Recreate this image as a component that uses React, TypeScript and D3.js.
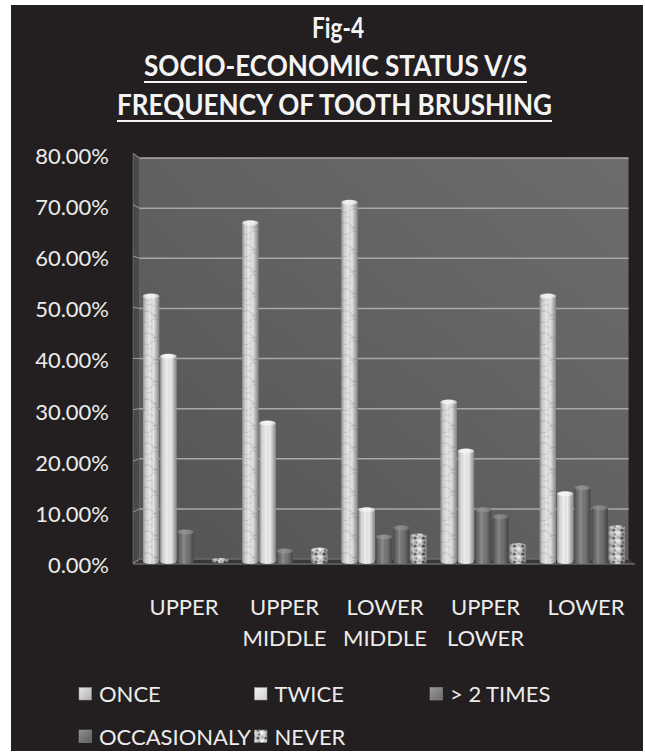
import React from 'react';
import * as d3 from 'd3';

const categories = ['UPPER', 'UPPER MIDDLE', 'LOWER MIDDLE', 'UPPER LOWER', 'LOWER'];
const categoryLines = [['UPPER'], ['UPPER', 'MIDDLE'], ['LOWER', 'MIDDLE'], ['UPPER', 'LOWER'], ['LOWER']];
const seriesNames = ['ONCE', 'TWICE', '> 2 TIMES', 'OCCASIONALY', 'NEVER'];
const once = [52.9, 67.5, 71.6, 31.8, 52.9];
const twice = [40.9, 27.6, 10.3, 22.0, 13.5];
const moreThanTwo = [5.9, 2.1, 4.9, 10.3, 14.7];
const occasionally = [0, 0, 6.7, 8.9, 10.7];
const never = [0.4, 2.3, 5.1, 3.2, 6.7];
const seriesValues = [once, twice, moreThanTwo, occasionally, never];
const yTicks = [0, 10, 20, 30, 40, 50, 60, 70, 80];
const titleLines = ['Fig-4', 'SOCIO-ECONOMIC STATUS V/S', 'FREQUENCY OF TOOTH BRUSHING'];

const W = 645;
const H = 752;
const FONT = 'Lato, "Open Sans", sans-serif';

const seriesFill = ['url(#marble)', '#ebebeb', '#77777a', '#727275', 'url(#mottle)'];
const capFill = ['#f3f3f3', '#f7f7f7', '#8c8c8f', '#868689', 'url(#mottle)'];
const legendFill = ['url(#legOnce)', 'url(#legTwice)', 'url(#legGray)', 'url(#legGray2)', 'url(#mottle)'];

export default function App() {
  const x0 = d3.scaleBand<string>().domain(categories).range([136, 632]).paddingInner(0.14).paddingOuter(0.07);
  const x1 = d3.scaleBand<string>().domain(seriesNames).range([0, x0.bandwidth()]).paddingInner(0.06);
  const xLabel = d3.scalePoint<string>().domain(categories).range([184, 586]);
  const yBar = d3.scaleLinear().domain([0, 80]).range([561.5, 160]);
  const yWall = d3.scaleLinear().domain([0, 80]).range([559, 158]);
  const yFront = d3.scaleLinear().domain([0, 80]).range([563.5, 153.5]);
  const yLabel = d3.scaleLinear().domain([0, 80]).range([565, 155.7]);
  const fmt = d3.format('.2%');

  const wallL = 139.5;
  const wallR = 628.5;
  const frontL = 133;
  const frontR = 635;

  const legendX = d3.scalePoint<number>().domain([0, 1, 2]).range([79, 430]);
  const legendY = d3.scalePoint<number>().domain([0, 1]).range([694, 736.5]);

  const titleSpecs = [
    { cx: 338, base: 38, len: 52, underline: false },
    { cx: 335.5, base: 76, len: 383, underline: true },
    { cx: 334.5, base: 115, len: 435, underline: true },
  ];

  return (
    <svg width={W} height={H} style={{ position: 'absolute', left: 0, top: 0 }}>
      <defs>
        <linearGradient id="wall" x1="0" y1="1" x2="1" y2="0">
          <stop offset="0%" stopColor="#545457" />
          <stop offset="55%" stopColor="#626265" />
          <stop offset="100%" stopColor="#6c6c6f" />
        </linearGradient>
        <linearGradient id="cyl" x1="0" y1="0" x2="1" y2="0">
          <stop offset="0%" stopColor="#000" stopOpacity="0.38" />
          <stop offset="18%" stopColor="#000" stopOpacity="0.08" />
          <stop offset="40%" stopColor="#fff" stopOpacity="0.18" />
          <stop offset="65%" stopColor="#000" stopOpacity="0" />
          <stop offset="100%" stopColor="#000" stopOpacity="0.42" />
        </linearGradient>
        <pattern id="marble" patternUnits="userSpaceOnUse" width="16" height="22">
          <rect width="16" height="22" fill="#e3e3e3" />
          <path d="M1 4 q4 -3 8 1 t6 2" stroke="#b9b9b9" strokeWidth="0.8" fill="none" />
          <path d="M0 13 q5 4 9 -1 q3 -3 6 0" stroke="#c2c2c2" strokeWidth="0.8" fill="none" />
          <path d="M4 19 q3 -2 6 1" stroke="#bdbdbd" strokeWidth="0.7" fill="none" />
          <ellipse cx="11" cy="8" rx="1.6" ry="1" fill="#c8c8c8" />
        </pattern>
        <pattern id="mottle" patternUnits="userSpaceOnUse" width="8" height="8">
          <rect width="8" height="8" fill="#cfcfcf" />
          <circle cx="2" cy="2" r="1.6" fill="#555" />
          <circle cx="6" cy="5" r="1.8" fill="#f6f6f6" />
          <circle cx="3" cy="6.5" r="1.2" fill="#7c7c7c" />
          <circle cx="6.5" cy="1.2" r="1" fill="#9a9a9a" />
        </pattern>
        <linearGradient id="legOnce" x1="0" y1="0" x2="1" y2="1">
          <stop offset="0%" stopColor="#e8e8e8" />
          <stop offset="100%" stopColor="#b0b0b0" />
        </linearGradient>
        <linearGradient id="legTwice" x1="0" y1="0" x2="1" y2="1">
          <stop offset="0%" stopColor="#f5f5f5" />
          <stop offset="100%" stopColor="#cfcfcf" />
        </linearGradient>
        <linearGradient id="legGray" x1="0" y1="0" x2="1" y2="1">
          <stop offset="0%" stopColor="#9a9a9a" />
          <stop offset="100%" stopColor="#6a6a6a" />
        </linearGradient>
        <linearGradient id="legGray2" x1="0" y1="0" x2="1" y2="1">
          <stop offset="0%" stopColor="#8e8e8e" />
          <stop offset="100%" stopColor="#5e5e5e" />
        </linearGradient>
      </defs>

      <rect x={0} y={0} width={W} height={H} fill="#ffffff" />
      <rect x={11} y={5} width={632} height={746} fill="#231f20" />

      {/* Title */}
      {titleLines.map((t, i) => {
        const s = titleSpecs[i];
        return (
          <g key={t}>
            <text
              x={s.cx}
              y={s.base}
              textAnchor="middle"
              fontFamily={FONT}
              fontWeight="bold"
              fontSize={28}
              fill="#f4f4f4"
              textLength={s.len}
              lengthAdjust="spacingAndGlyphs"
            >
              {t}
            </text>
            {s.underline && (
              <line x1={s.cx - s.len / 2} x2={s.cx + s.len / 2} y1={s.base + 6} y2={s.base + 6} stroke="#f4f4f4" strokeWidth={2} />
            )}
          </g>
        );
      })}

      {/* Back wall */}
      <rect x={wallL} y={yWall(80)} width={wallR - wallL} height={yWall(0) - yWall(80)} fill="url(#wall)" />
      {/* Left side wall */}
      <polygon
        points={`${frontL},${yFront(80)} ${wallL},${yWall(80)} ${wallL},${yWall(0)} ${frontL},${yFront(0)}`}
        fill="#4a4a4d"
        stroke="#7a7a7a"
        strokeWidth={0.6}
      />
      {/* Floor */}
      <polygon
        points={`${frontL},${yFront(0)} ${frontR},${yFront(0) + 0.5} ${wallR},${yWall(0)} ${wallL},${yWall(0)}`}
        fill="#38383b"
      />
      <line x1={frontL} x2={frontR} y1={yFront(0) + 0.5} y2={yFront(0) + 0.5} stroke="#8a8a8a" strokeWidth={1} />

      {/* Gridlines */}
      {yTicks.map((v) => (
        <g key={v}>
          <line x1={wallL} x2={wallR} y1={yWall(v)} y2={yWall(v)} stroke={v === 0 ? '#6a6a6a' : '#a8a8a8'} strokeWidth={1.5} />
          <line x1={frontL} x2={wallL} y1={yFront(v)} y2={yWall(v)} stroke="#9a9a9a" strokeWidth={1} />
        </g>
      ))}

      {/* Bars */}
      {categories.map((c, ci) => (
        <g key={c} transform={`translate(${x0(c)},0)`}>
          {seriesNames.map((s, si) => {
            const v = seriesValues[si][ci];
            if (v <= 0) return null;
            const bx = x1(s) as number;
            const bw = x1.bandwidth();
            const top = yBar(v);
            const bottom = yBar(0);
            const ry = Math.min(2.5, (bottom - top) / 2 + 0.5);
            return (
              <g key={s}>
                <ellipse cx={bx + bw / 2} cy={bottom} rx={bw / 2} ry={ry} fill={seriesFill[si]} />
                <ellipse cx={bx + bw / 2} cy={bottom} rx={bw / 2} ry={ry} fill="url(#cyl)" />
                <rect x={bx} y={top} width={bw} height={bottom - top} fill={seriesFill[si]} />
                <rect x={bx} y={top} width={bw} height={bottom - top} fill="url(#cyl)" />
                <ellipse cx={bx + bw / 2} cy={top} rx={bw / 2} ry={ry} fill={capFill[si]} />
                <ellipse cx={bx + bw / 2} cy={top} rx={bw / 2} ry={ry} fill="url(#cyl)" opacity={0.5} />
              </g>
            );
          })}
        </g>
      ))}

      {/* Y axis labels */}
      {yTicks.map((v) => (
        <text key={v} x={109} y={yLabel(v) + 8} textAnchor="end" fontFamily={FONT} fontSize={22} fill="#ececec">
          {fmt(v / 100)}
        </text>
      ))}

      {/* X axis labels */}
      {categories.map((c, ci) => (
        <text key={c} textAnchor="middle" fontFamily={FONT} fontSize={22} fill="#ececec">
          {categoryLines[ci].map((line, li) => (
            <tspan key={li} x={xLabel(c)} y={615 + li * 31}>
              {line}
            </tspan>
          ))}
        </text>
      ))}

      {/* Legend */}
      {seriesNames.map((s, si) => {
        const lx = legendX(si % 3) as number;
        const ly = legendY(Math.floor(si / 3)) as number;
        return (
          <g key={s}>
            <rect x={lx} y={ly - 6.5} width={12.5} height={12.5} fill={legendFill[si]} stroke="#9a9a9a" strokeWidth={0.5} />
            <text x={lx + 20} y={ly + 8} fontFamily={FONT} fontSize={22} fill="#ececec">
              {s}
            </text>
          </g>
        );
      })}
    </svg>
  );
}
